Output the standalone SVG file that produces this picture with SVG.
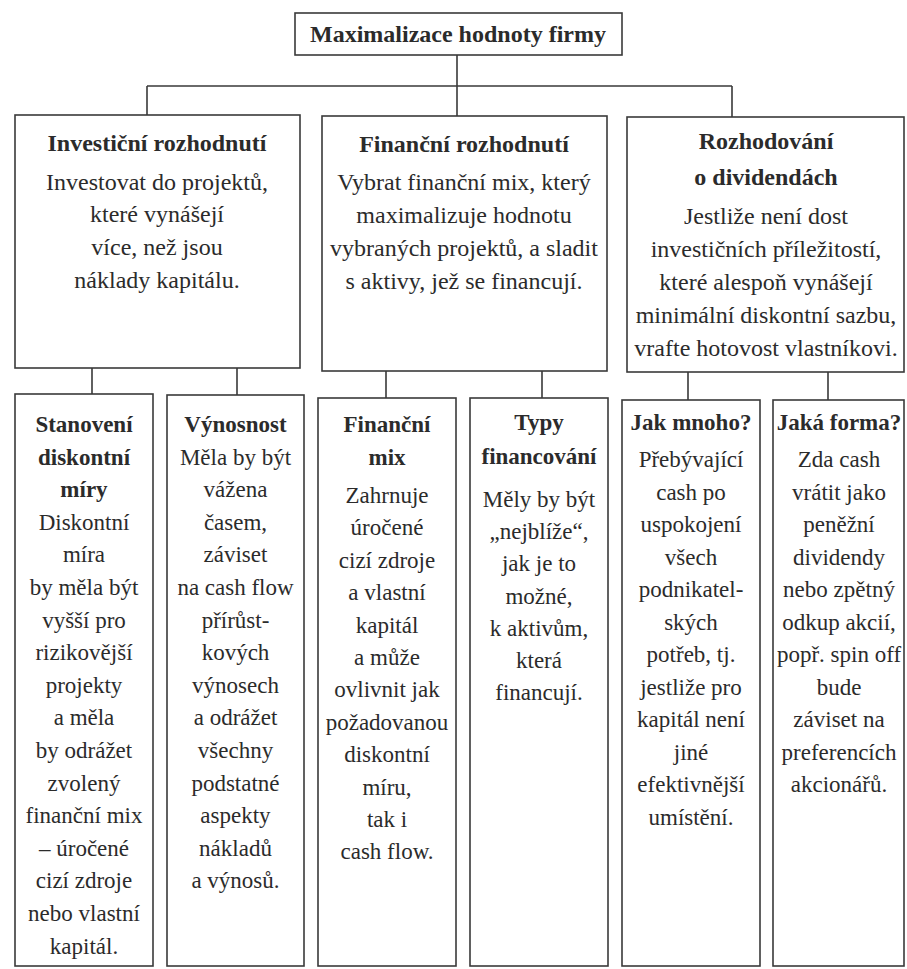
<svg xmlns="http://www.w3.org/2000/svg" width="907" height="969" viewBox="0 0 907 969">
<style>
.box{fill:none;stroke:#3a3a3a;stroke-width:1.6}
.ln{fill:none;stroke:#3a3a3a;stroke-width:1.6}
.tx{font-family:Liberation Serif,Times New Roman,serif;fill:#2b2b2b;text-anchor:middle}
.b{font-weight:bold}
.tp{font-size:24px}
.bt{font-size:23px}
</style>
<rect x="0" y="0" width="907" height="969" fill="#ffffff"/>
<g id="connectors">
<path class="ln" d="M457 55V116M147 86H732M147 86V115M732 86V117"/>
<path class="ln" d="M92 368V394M237 368V395M386 371V398M542 371V398M688 372V400M828 372V400"/>
</g>
<g id="root">
<rect class="box" x="295" y="13" width="327" height="42"/>
<text x="458" y="42" font-family="Liberation Serif" font-size="24" font-weight="bold" fill="#2b2b2b" text-anchor="middle">Maximalizace hodnoty firmy</text>
</g>
<g id="investicni">
<rect class="box" x="15" y="115" width="285" height="253"/>
<text class="tx tp"><tspan class="b" x="157" y="151">Investiční rozhodnutí</tspan><tspan x="157" y="190">Investovat do projektů,</tspan><tspan x="157" y="222">které vynášejí</tspan><tspan x="157" y="255">více, než jsou</tspan><tspan x="157" y="288">náklady kapitálu.</tspan></text>
</g>
<g id="financni">
<rect class="box" x="322" y="116" width="285" height="255"/>
<text class="tx tp"><tspan class="b" x="464" y="152">Finanční rozhodnutí</tspan><tspan x="464" y="190">Vybrat finanční mix, který</tspan><tspan x="464" y="223">maximalizuje hodnotu</tspan><tspan x="464" y="256">vybraných projektů, a sladit</tspan><tspan x="464" y="289">s aktivy, jež se financují.</tspan></text>
</g>
<g id="dividendy">
<rect class="box" x="627" y="117" width="277" height="255"/>
<text class="tx tp"><tspan class="b" x="766" y="149">Rozhodování</tspan><tspan class="b" x="766" y="185">o dividendách</tspan><tspan x="766" y="224">Jestliže není dost</tspan><tspan x="766" y="257">investičních příležitostí,</tspan><tspan x="766" y="290">které alespoň vynášejí</tspan><tspan x="766" y="323">minimální diskontní sazbu,</tspan><tspan x="766" y="356">vrafte hotovost vlastníkovi.</tspan></text>
</g>
<g id="stanoveni">
<rect class="box" x="15" y="394" width="138" height="572"/>
<text class="tx bt"><tspan class="b" x="84" y="432">Stanovení</tspan><tspan class="b" x="84" y="464.6">diskontní</tspan><tspan class="b" x="84" y="497.2">míry</tspan><tspan x="84" y="529.8">Diskontní</tspan><tspan x="84" y="562.4">míra</tspan><tspan x="84" y="595">by měla být</tspan><tspan x="84" y="627.6">vyšší pro</tspan><tspan x="84" y="660.2">rizikovější</tspan><tspan x="84" y="692.8">projekty</tspan><tspan x="84" y="725.4">a měla</tspan><tspan x="84" y="758">by odrážet</tspan><tspan x="84" y="790.6">zvolený</tspan><tspan x="84" y="823.2">finanční mix</tspan><tspan x="84" y="855.8">– úročené</tspan><tspan x="84" y="888.4">cizí zdroje</tspan><tspan x="84" y="921">nebo vlastní</tspan><tspan x="84" y="953.6">kapitál.</tspan></text>
</g>
<g id="vynosnost">
<rect class="box" x="167" y="395" width="137" height="571"/>
<text class="tx bt"><tspan class="b" x="235.5" y="432">Výnosnost</tspan><tspan x="235.5" y="464.6">Měla by být</tspan><tspan x="235.5" y="497.2">vážena</tspan><tspan x="235.5" y="529.8">časem,</tspan><tspan x="235.5" y="562.4">záviset</tspan><tspan x="235.5" y="595">na cash flow</tspan><tspan x="235.5" y="627.6">přírůst-</tspan><tspan x="235.5" y="660.2">kových</tspan><tspan x="235.5" y="692.8">výnosech</tspan><tspan x="235.5" y="725.4">a odrážet</tspan><tspan x="235.5" y="758">všechny</tspan><tspan x="235.5" y="790.6">podstatné</tspan><tspan x="235.5" y="823.2">aspekty</tspan><tspan x="235.5" y="855.8">nákladů</tspan><tspan x="235.5" y="888.4">a výnosů.</tspan></text>
</g>
<g id="financni-mix">
<rect class="box" x="318" y="398" width="138" height="568"/>
<text class="tx bt"><tspan class="b" x="387" y="432">Finanční</tspan><tspan class="b" x="387" y="465">mix</tspan><tspan x="387" y="503">Zahrnuje</tspan><tspan x="387" y="535.4">úročené</tspan><tspan x="387" y="567.8">cizí zdroje</tspan><tspan x="387" y="600.2">a vlastní</tspan><tspan x="387" y="632.6">kapitál</tspan><tspan x="387" y="665">a může</tspan><tspan x="387" y="697.4">ovlivnit jak</tspan><tspan x="387" y="729.8">požadovanou</tspan><tspan x="387" y="762.2">diskontní</tspan><tspan x="387" y="794.6">míru,</tspan><tspan x="387" y="827">tak i</tspan><tspan x="387" y="859.4">cash flow.</tspan></text>
</g>
<g id="typy">
<rect class="box" x="470" y="398" width="138" height="568"/>
<text class="tx bt"><tspan class="b" x="539" y="430">Typy</tspan><tspan class="b" x="539" y="464">financování</tspan><tspan x="539" y="507">Měly by být</tspan><tspan x="539" y="539.2">„nejblíže“,</tspan><tspan x="539" y="571.4">jak je to</tspan><tspan x="539" y="603.6">možné,</tspan><tspan x="539" y="635.8">k aktivům,</tspan><tspan x="539" y="668">která</tspan><tspan x="539" y="700.2">financují.</tspan></text>
</g>
<g id="jak-mnoho">
<rect class="box" x="622" y="400" width="138" height="566"/>
<text class="tx bt"><tspan class="b" x="691" y="430">Jak mnoho?</tspan><tspan x="691" y="467">Přebývající</tspan><tspan x="691" y="499.5">cash po</tspan><tspan x="691" y="532">uspokojení</tspan><tspan x="691" y="564.5">všech</tspan><tspan x="691" y="597">podnikatel-</tspan><tspan x="691" y="629.5">ských</tspan><tspan x="691" y="662">potřeb, tj.</tspan><tspan x="691" y="694.5">jestliže pro</tspan><tspan x="691" y="727">kapitál není</tspan><tspan x="691" y="759.5">jiné</tspan><tspan x="691" y="792">efektivnější</tspan><tspan x="691" y="824.5">umístění.</tspan></text>
</g>
<g id="jaka-forma">
<rect class="box" x="773" y="400" width="131" height="566"/>
<text class="tx bt"><tspan class="b" x="839" y="430">Jaká forma?</tspan><tspan x="839" y="467">Zda cash</tspan><tspan x="839" y="499.5">vrátit jako</tspan><tspan x="839" y="532">peněžní</tspan><tspan x="839" y="564.5">dividendy</tspan><tspan x="839" y="597">nebo zpětný</tspan><tspan x="839" y="629.5">odkup akcií,</tspan><tspan x="839" y="662">popř. spin off</tspan><tspan x="839" y="694.5">bude</tspan><tspan x="839" y="727">záviset na</tspan><tspan x="839" y="759.5">preferencích</tspan><tspan x="839" y="792">akcionářů.</tspan></text>
</g>
</svg>
